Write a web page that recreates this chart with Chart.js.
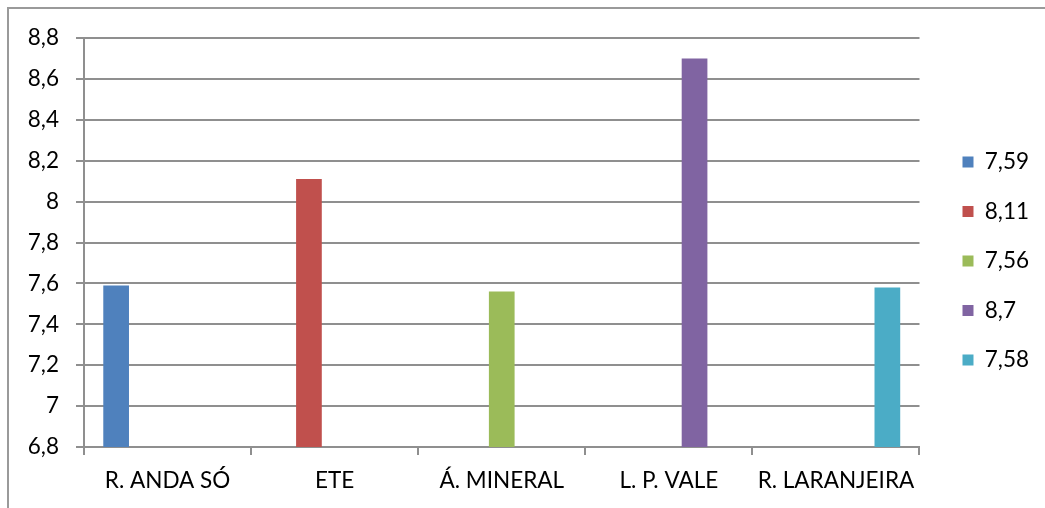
<!DOCTYPE html>
<html lang="pt-BR">
<head>
<meta charset="UTF-8">
<title>pH - pontos de coleta</title>
<script src="https://cdn.jsdelivr.net/npm/chart.js"></script>
<style>
  html, body { margin: 0; background: #fff; overflow: hidden; }
  #wrap { position: relative; width: 1045px; height: 508px; overflow: hidden; }
  #frame { position: absolute; left: 7px; top: 7px; width: 1100px; height: 600px;
           border-left: 2px solid #9a9a9a; border-top: 2px solid #9a9a9a; pointer-events: none; }
</style>
</head>
<body>
<div id="wrap">
  <canvas id="grafico" width="1045" height="508"></canvas>
  <div id="frame"></div>
</div>

<script>
    // dados
    var categorias = ['R. ANDA SÓ', 'ETE', 'Á. MINERAL', 'L. P. VALE', 'R. LARANJEIRA'];
    var valores = [7.59, 8.11, 7.56, 8.7, 7.58];
    var legendas = ['7,59', '8,11', '7,56', '8,7', '7,58'];
    var cores = ['#4F81BD', '#C0504D', '#9BBB59', '#8064A2', '#4BACC6'];
    var yMin = 6.8, yMax = 8.8, yPasso = 0.2;

    var fonte = { family: 'Lato', size: 22.5 };
    var cinza = '#8f8f8f';

    // uma serie por ponto, so com o seu proprio valor (como no Excel)
    var datasets = valores.map(function (v, i) {
        return {
            label: legendas[i],
            data: categorias.map(function (c, j) { return j === i ? v : null; }),
            backgroundColor: cores[i],
            categoryPercentage: 5 / 6.5,
            barPercentage: 1
        };
    });

    // empurra a legenda um pouco para a direita/cima
    var moverLegenda = {
        id: 'moverLegenda',
        afterLayout: function (chart) {
            var l = chart.legend;
            l.left += 16; l.right += 16;
            l.top -= 12; l.bottom -= 12;
        }
    };

    var ctx = document.getElementById('grafico').getContext('2d');
    var grafico = new Chart(ctx, {
        type: 'bar',
        data: { labels: categorias, datasets: datasets },
        options: {
            responsive: false,
            animation: false,
            layout: { padding: { top: 38, right: 22, bottom: 0, left: 0 } },
            plugins: {
                tooltip: { enabled: false },
                legend: {
                    position: 'right',
                    labels: { color: '#000', font: fonte, boxWidth: 11, boxHeight: 11, padding: 27 }
                }
            },
            scales: {
                x: {
                    afterFit: function (s) { s.height = 61; },
                    ticks: { color: '#000', font: fonte, padding: 12, maxRotation: 0, autoSkip: false },
                    grid: { offset: true, drawOnChartArea: false, color: cinza, lineWidth: 2, tickLength: 8 },
                    border: { color: cinza, width: 2 }
                },
                y: {
                    min: yMin,
                    max: yMax,
                    afterFit: function (s) { s.width = 84; },
                    ticks: {
                        stepSize: yPasso,
                        color: '#000',
                        font: fonte,
                        padding: 17,
                        callback: function (v) {
                            return Number(v).toFixed(1).replace(/\.0$/, '').replace('.', ',');
                        }
                    },
                    grid: { color: cinza, lineWidth: 2, tickLength: 8 },
                    border: { color: cinza, width: 2 }
                }
            }
        },
        plugins: [moverLegenda]
    });
</script>
</body>
</html>
